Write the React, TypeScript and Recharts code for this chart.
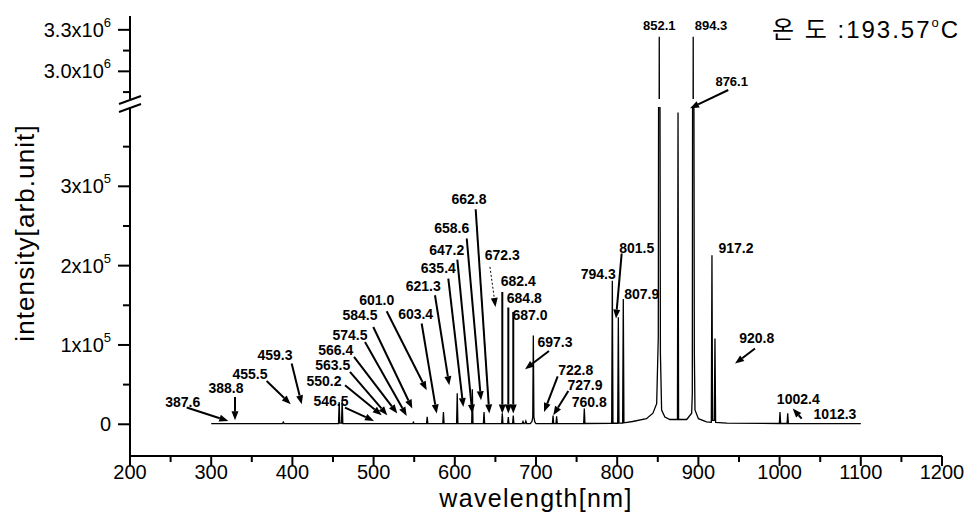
import { LineChart, Line, XAxis, YAxis, ReferenceLine, ReferenceDot } from "recharts";

const FONT = '"Liberation Sans", Arial, "Noto Sans CJK KR", sans-serif';
const W = 971;
const H = 514;

// [wavelength nm, intensity arb.unit]
const spectrum: [number, number][] = [
  [300, 800], [387.8, 800], [388.8, 2800], [389.8, 800],
  [456.8, 800], [457.6, 28000], [458.4, 1500], [460.5, 1500], [461.3, 31000], [462.1, 800],
  [548.2, 800], [549, 2500], [549.8, 800],
  [565.2, 800], [566, 9500], [566.8, 800],
  [585.2, 800], [586, 15500], [586.8, 800],
  [602.2, 900], [603, 39000], [603.8, 900],
  [620.8, 900], [621.6, 44000], [622.4, 900],
  [635.2, 900], [636, 15500], [636.8, 900],
  [657.7, 900], [658.5, 14000], [659.3, 900],
  [665.1, 900], [665.9, 9000], [666.7, 900],
  [671.2, 900], [672, 11000], [672.8, 900],
  [683, 900], [684, 3500], [685, 900], [686.5, 900], [687.5, 4000], [688.5, 900],
  [693, 900], [695, 3500], [696, 9000], [696.7, 112000], [697.4, 9000], [698.5, 3000], [700, 900],
  [720.2, 900], [721, 11000], [721.8, 900], [724.6, 900], [725.4, 10000], [726.2, 900],
  [758.7, 900], [759.5, 20000], [760.3, 1000],
  [793.2, 1200], [794, 181000], [794.8, 1300],
  [800.6, 1300], [801.4, 135000], [802.2, 1400],
  [806.7, 1500], [807.5, 158000], [808.3, 1800],
  [819, 3500], [836, 7000], [844, 14000], [848.6, 26000], [850.6, 110000], [851.2, 600000],
  [851.8, 3250000], [852.4, 600000], [853.2, 90000], [854.7, 18000], [858.7, 9000], [865, 6000],
  [874.2, 6000], [874.9, 393000], [875.6, 6000],
  [885.6, 6000], [891.7, 14000], [892.5, 39000], [893, 600000], [893.6, 3250000], [894.2, 600000],
  [895, 90000], [895.8, 18000], [900, 7000], [910, 3000],
  [915.9, 2500], [916.7, 213000], [917.4, 5000], [919.6, 5000], [920.4, 108000], [921.2, 2500],
  [935, 1500], [999.7, 1000], [1000.5, 15500], [1001.3, 1000],
  [1009.2, 1000], [1010, 14000], [1010.8, 1000], [1100, 800],
];

const xTicks = [200, 250, 300, 350, 400, 450, 500, 550, 600, 650, 700, 750, 800, 850, 900, 950, 1000, 1050, 1100, 1150, 1200];
const lowerTicks = [0, 50000, 100000, 150000, 200000, 250000, 300000, 350000];
const upperTicks = [2850000, 3000000, 3150000, 3300000];

const lowerTickNames: Record<number, [string, string]> = {
  0: ["0", ""],
  100000: ["1x10", "5"],
  200000: ["2x10", "5"],
  300000: ["3x10", "5"],
};
const upperTickNames: Record<number, [string, string]> = {
  3000000: ["3.0x10", "6"],
  3300000: ["3.3x10", "6"],
};

type Pt = [number, number];

// peak labels, anchored at [nm, intensity]
const lowerLabels: { text: string; at: Pt }[] = [
  { text: "387.6", at: [264.9, 28100] },
  { text: "388.8", at: [318.2, 46300] },
  { text: "455.5", at: [347.8, 63900] },
  { text: "459.3", at: [378.6, 87000] },
  { text: "546.5", at: [447.5, 29400] },
  { text: "550.2", at: [438.9, 54600] },
  { text: "563.5", at: [449.6, 74400] },
  { text: "566.4", at: [453.3, 94200] },
  { text: "574.5", at: [470.9, 113100] },
  { text: "584.5", at: [483.3, 138300] },
  { text: "601.0", at: [503.8, 157300] },
  { text: "603.4", at: [551.8, 138700] },
  { text: "621.3", at: [561.2, 174000] },
  { text: "635.4", at: [579.7, 197600] },
  { text: "647.2", at: [590, 219400] },
  { text: "658.6", at: [596.2, 248000] },
  { text: "662.8", at: [617.5, 283700] },
  { text: "672.3", at: [658.5, 213100] },
  { text: "682.4", at: [678.2, 180300] },
  { text: "684.8", at: [685.6, 159800] },
  { text: "687.0", at: [692.6, 137500] },
  { text: "697.3", at: [723.4, 103800] },
  { text: "722.8", at: [748.9, 68100] },
  { text: "727.9", at: [760.3, 49200] },
  { text: "760.8", at: [765.6, 28100] },
  { text: "794.3", at: [776.7, 189200] },
  { text: "801.5", at: [824, 222300] },
  { text: "807.9", at: [830.2, 163900] },
  { text: "917.2", at: [946.3, 221900] },
  { text: "920.8", at: [971.8, 109300] },
  { text: "1002.4", at: [1023, 32400] },
  { text: "1012.3", at: [1068.2, 12600] },
];

const upperLabels: { text: string; at: Pt }[] = [
  { text: "852.1", at: [851.8, 3330000] },
  { text: "894.3", at: [915.5, 3330000] },
  { text: "876.1", at: [941, 2925000] },
];

// arrows, from -> to, in [nm, intensity]
const lowerArrows: { from: Pt; to: Pt; thin?: boolean }[] = [
  { from: [269.8, 21100], to: [321.1, 4200] },
  { from: [329.3, 34400], to: [329.3, 5000] },
  { from: [368.3, 54600], to: [397.9, 25200] },
  { from: [399.1, 76500], to: [411.5, 25200] },
  { from: [464.8, 21100], to: [500.5, 4200] },
  { from: [464.8, 49200], to: [510, 11400] },
  { from: [470.9, 66000], to: [516.9, 11400] },
  { from: [475.9, 84900], to: [529.2, 13500] },
  { from: [489.4, 103800], to: [540.8, 10500] },
  { from: [499.6, 122700], to: [547.7, 19800] },
  { from: [516.1, 142500], to: [565.4, 42900] },
  { from: [559.2, 127000], to: [577.7, 13500] },
  { from: [575.6, 162700], to: [593.2, 49200] },
  { from: [592, 183700], to: [610.5, 21800] },
  { from: [603.1, 207700], to: [621.6, 13500] },
  { from: [614.7, 234200], to: [632.3, 30300] },
  { from: [625.7, 271100], to: [642.5, 13500] },
  { from: [643.3, 198400], to: [650.1, 147900], thin: true },
  { from: [658.5, 166800], to: [658.5, 13500] },
  { from: [665.9, 147200], to: [665.9, 13500] },
  { from: [672, 141600], to: [672, 13500] },
  { from: [716, 92400], to: [686.5, 69400] },
  { from: [726.7, 60500], to: [709.9, 15500] },
  { from: [739.8, 42000], to: [721.3, 11400] },
  { from: [805.5, 215300], to: [798.5, 133300] },
  { from: [969.7, 95500], to: [945.1, 76500] },
  { from: [1027.2, 7200], to: [1016.1, 19800] },
  { from: [936.8, 421400], to: [889.7, 398400] },
];

const data = spectrum.map(([nm, i]) => ({ nm, i }));

function YTick(props: any) {
  const { x, y, payload, names } = props;
  const t = names[payload.value];
  return (
    <g>
      <line x1={x - (t ? 12 : 7)} y1={y} x2={x} y2={y} stroke="#000" strokeWidth={2} />
      {t && (
        <text x={x - 19} y={y + 7} textAnchor="end" fontFamily={FONT} fontSize={20} fill="#000">
          {t[0]}
          {t[1] && (
            <tspan fontSize={13} dy={-10}>
              {t[1]}
            </tspan>
          )}
        </text>
      )}
    </g>
  );
}

function XTick(props: any) {
  const { x, y, payload } = props;
  const major = payload.value % 100 === 0;
  return (
    <g>
      <line x1={x} y1={y} x2={x} y2={y + (major ? 10 : 6)} stroke="#000" strokeWidth={2} />
      {major && (
        <text x={x} y={y + 23} textAnchor="middle" fontFamily={FONT} fontSize={20} fill="#000">
          {payload.value}
        </text>
      )}
    </g>
  );
}

const noteText = (text: string, size: number) => (p: any) => (
  <text
    x={p.cx}
    y={p.cy + size * 0.36}
    textAnchor="middle"
    fontFamily={FONT}
    fontSize={size}
    fontWeight="bold"
    fill="#000"
  >
    {text}
  </text>
);

const arrowShape = (thin?: boolean) => (p: any) => {
  const { x1, y1, x2, y2 } = p;
  const dx = x2 - x1;
  const dy = y2 - y1;
  const len = Math.hypot(dx, dy) || 1;
  const ux = dx / len;
  const uy = dy / len;
  const hl = 9;
  const hw = 3.5;
  const bx = x2 - ux * hl;
  const by = y2 - uy * hl;
  return (
    <g>
      <line
        x1={x1}
        y1={y1}
        x2={bx}
        y2={by}
        stroke="#000"
        strokeWidth={thin ? 1 : 2}
        strokeDasharray={thin ? "2 2" : undefined}
      />
      <polygon points={`${x2},${y2} ${bx - uy * hw},${by + ux * hw} ${bx + uy * hw},${by - ux * hw}`} fill="#000" />
    </g>
  );
};

// y title and the "//" axis break, drawn against the lower y axis box
const lowerYAxisLabel = (p: any) => {
  const vb = p.viewBox || { x: 0, y: 107, width: 130, height: 349 };
  const ax = vb.x + vb.width;
  const top = vb.y;
  return (
    <g>
      <text
        x={34}
        y={233}
        transform="rotate(-90 34 233)"
        textAnchor="middle"
        fontFamily={FONT}
        fontSize={26}
        letterSpacing={1.1}
        fill="#000"
      >
        intensity[arb.unit]
      </text>
      <line x1={ax - 11} y1={top - 3} x2={ax + 11} y2={top - 11} stroke="#000" strokeWidth={2} />
      <line x1={ax - 11} y1={top + 5} x2={ax + 11} y2={top - 3} stroke="#000" strokeWidth={2} />
    </g>
  );
};

const xAxisLabel = (p: any) => {
  const vb = p.viewBox || { x: 130, y: 456, width: 812, height: 58 };
  return (
    <text
      x={vb.x + vb.width / 2}
      y={vb.y + 51}
      textAnchor="middle"
      fontFamily={FONT}
      fontSize={25}
      letterSpacing={1.3}
      fill="#000"
    >
      wavelength[nm]
    </text>
  );
};

export default function App() {
  return (
    <div style={{ position: "absolute", left: 0, top: 0, width: W, height: H, background: "#fff" }}>
      <div style={{ position: "absolute", left: 0, top: 0 }}>
        <LineChart width={W} height={H} data={data} margin={{ top: 107, right: 29, left: 0, bottom: 0 }}>
          <XAxis
            type="number"
            dataKey="nm"
            domain={[200, 1200]}
            ticks={xTicks}
            interval={0}
            height={58}
            tickSize={0}
            tickMargin={0}
            tickLine={false}
            tick={<XTick />}
            axisLine={{ stroke: "#000", strokeWidth: 2 }}
            label={xAxisLabel}
          />
          <YAxis
            type="number"
            domain={[-40000, 400000]}
            allowDataOverflow
            ticks={lowerTicks}
            interval={0}
            width={130}
            tickSize={0}
            tickMargin={0}
            tickLine={false}
            tick={<YTick names={lowerTickNames} />}
            axisLine={{ stroke: "#000", strokeWidth: 2 }}
            label={lowerYAxisLabel}
          />
          <Line
            type="linear"
            dataKey="i"
            stroke="#000"
            strokeWidth={1.3}
            dot={false}
            activeDot={false}
            isAnimationActive={false}
          />
          {lowerArrows.map((a, k) => (
            <ReferenceLine
              key={`a${k}`}
              segment={[
                { x: a.from[0], y: a.from[1] },
                { x: a.to[0], y: a.to[1] },
              ]}
              ifOverflow="visible"
              shape={arrowShape(a.thin)}
            />
          ))}
          {lowerLabels.map((l) => (
            <ReferenceDot key={l.text} x={l.at[0]} y={l.at[1]} r={0} shape={noteText(l.text, 14)} />
          ))}
        </LineChart>
      </div>
      <div style={{ position: "absolute", left: 0, top: 0 }}>
        <LineChart width={W} height={H} data={data} margin={{ top: 16, right: 29, left: 0, bottom: H - 99 }}>
          <XAxis type="number" dataKey="nm" domain={[200, 1200]} hide />
          <YAxis
            type="number"
            domain={[2800000, 3400000]}
            allowDataOverflow
            ticks={upperTicks}
            interval={0}
            width={130}
            tickSize={0}
            tickMargin={0}
            tickLine={false}
            tick={<YTick names={upperTickNames} />}
            axisLine={{ stroke: "#000", strokeWidth: 2 }}
          />
          <Line
            type="linear"
            dataKey="i"
            stroke="#000"
            strokeWidth={1.3}
            dot={false}
            activeDot={false}
            isAnimationActive={false}
          />
          {upperLabels.map((l) => (
            <ReferenceDot key={l.text} x={l.at[0]} y={l.at[1]} r={0} shape={noteText(l.text, 13)} />
          ))}
          <text x={772} y={38} fontFamily={FONT} fontSize={24} letterSpacing={2} fill="#000">
            온 도 :193.57
            <tspan fontSize={13} dy={-11}>
              o
            </tspan>
            <tspan dy={11}>C</tspan>
          </text>
        </LineChart>
      </div>
    </div>
  );
}
